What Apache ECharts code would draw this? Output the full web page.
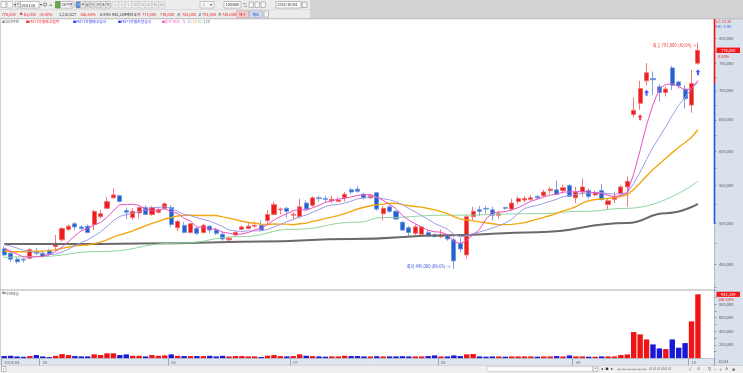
<!DOCTYPE html>
<html><head><meta charset="utf-8">
<script src="https://cdn.jsdelivr.net/npm/echarts@6.0.0/dist/echarts.min.js"></script>
<style>html,body{margin:0;padding:0;background:#fff;overflow:hidden}#main{width:743px;height:373px}</style>
</head><body><div id="main"></div>
<script>
// ---------------- DATA ----------------
const dates = ['2024/04/23','2024/04/24','2024/04/25','2024/04/26','2024/04/29','2024/04/30',
'2024/05/02','2024/05/03','2024/05/07','2024/05/08','2024/05/09','2024/05/10','2024/05/13','2024/05/14','2024/05/16','2024/05/17','2024/05/20','2024/05/21','2024/05/22','2024/05/23','2024/05/24','2024/05/27','2024/05/28','2024/05/29','2024/05/30','2024/05/31',
'2024/06/03','2024/06/04','2024/06/05','2024/06/07','2024/06/10','2024/06/11','2024/06/12','2024/06/13','2024/06/14','2024/06/17','2024/06/18','2024/06/19','2024/06/20','2024/06/21','2024/06/24','2024/06/25','2024/06/26','2024/06/27','2024/06/28',
'2024/07/01','2024/07/02','2024/07/03','2024/07/04','2024/07/05','2024/07/08','2024/07/09','2024/07/10','2024/07/11','2024/07/12','2024/07/15','2024/07/16','2024/07/17','2024/07/18','2024/07/19','2024/07/22','2024/07/23','2024/07/24','2024/07/25','2024/07/26','2024/07/29','2024/07/30','2024/07/31',
'2024/08/01','2024/08/02','2024/08/05','2024/08/06','2024/08/07','2024/08/08','2024/08/09','2024/08/12','2024/08/13','2024/08/14','2024/08/16','2024/08/19','2024/08/20','2024/08/21','2024/08/22','2024/08/23','2024/08/26','2024/08/27','2024/08/28','2024/08/29','2024/08/30',
'2024/09/02','2024/09/03','2024/09/04','2024/09/05','2024/09/06','2024/09/09','2024/09/10','2024/09/11','2024/09/12','2024/09/13','2024/09/19','2024/09/20','2024/09/23','2024/09/24','2024/09/25','2024/09/26','2024/09/27','2024/09/30',
'2024/10/02','2024/10/04'];

const openP = [468000,463000,456000,456000,457000,465000,
463000,466000,471000,479000,492000,499000,495000,496000,498000,508000,519000,533000,536000,516000,507000,513000,520000,511000,514000,519000,
520000,494000,497000,488000,493000,488000,496000,491000,486000,479000,485000,492000,493000,496000,497000,503000,511000,517000,519000,
510000,508000,526000,523000,533000,532000,529000,528000,533000,544000,545000,538000,533000,540000,512000,521000,515000,501000,494000,487000,486000,488000,485000,
483000,484000,479000,475000,461000,508000,517000,519000,517000,510000,520000,518000,528000,530000,531000,535000,536000,543000,544000,543000,550000,
533000,541000,543000,537000,543000,524000,531000,539000,548000,659000,678000,718000,722000,707000,697000,742000,716000,703000,
675000,751000];

const highP = [471000,465000,458000,457000,469000,469000,
466000,468000,485000,495000,498000,501000,497000,498000,517000,517000,534000,546000,537000,520000,519000,521000,523000,522000,520000,527000,
523000,504000,501000,500000,495000,499000,497000,494000,489000,483000,490000,497000,500000,502000,503000,517000,528000,520000,521000,
514000,532000,530000,535000,536000,536000,536000,534000,541000,547000,549000,540000,537000,541000,522000,523000,517000,502000,496000,498000,496000,491000,487000,
492000,486000,482000,481000,511000,521000,522000,522000,521000,516000,521000,532000,535000,536000,537000,537000,544000,548000,557000,551000,552000,
548000,560000,546000,543000,552000,532000,541000,551000,563000,688000,718000,751000,735000,712000,707000,746000,718000,710000,
738000,791000];

const lowP = [459000,453000,451000,452000,456000,461000,
458000,460000,466000,477000,490000,491000,491000,487000,491000,506000,518000,532000,527000,505000,504000,506000,510000,509000,512000,517000,
495000,490000,487000,487000,485000,487000,487000,485000,478000,477000,483000,491000,492000,494000,490000,499000,510000,511000,507000,
505000,506000,516000,521000,528000,527000,526000,527000,528000,538000,540000,531000,532000,516000,503000,513000,504000,490000,483000,485000,484000,483000,482000,
481000,478000,445000,464000,457000,503000,509000,512000,503000,506000,517000,516000,525000,527000,529000,531000,534000,539000,537000,539000,534000,
526000,535000,532000,535000,529000,517000,526000,535000,521000,654000,667000,710000,693000,681000,690000,701000,704000,669000,
662000,748000];

const closeP = [461000,456000,453000,455000,467000,463000,
459000,462000,474000,493000,496000,495000,493000,488000,515000,512000,528000,537000,528000,514000,515000,520000,511000,520000,517000,525000,
498000,502000,488000,499000,487000,497000,491000,487000,480000,481000,488000,495000,496000,497000,491000,511000,524000,518000,515000,
511000,521000,518000,533000,532000,531000,531000,530000,538000,541000,542000,533000,536000,518000,519000,515000,505000,491000,488000,495000,495000,484000,483000,
485000,480000,454000,468000,508000,515000,515000,518000,510000,512000,519000,526000,532000,532000,533000,533000,541000,545000,538000,547000,535000,
541000,548000,535000,540000,531000,529000,535000,548000,556000,666000,704000,733000,720000,697000,703000,710000,709000,686000,
713000,776000];

// trading value (백만원)
const tradeValue = [34000,38000,29000,24000,34000,49000,
29000,19000,38000,63000,49000,34000,29000,29000,59000,49000,74000,74000,49000,59000,38000,38000,29000,49000,38000,44000,
59000,38000,34000,34000,34000,34000,38000,29000,38000,29000,34000,34000,29000,29000,20000,39000,49000,34000,29000,
34000,59000,39000,34000,29000,25000,29000,29000,39000,34000,34000,29000,29000,32000,29000,29000,29000,32000,29000,29000,29000,34000,44000,
29000,29000,44000,34000,59000,64000,29000,25000,29000,29000,25000,29000,29000,29000,29000,25000,29000,29000,34000,29000,44000,
29000,29000,25000,25000,29000,29000,29000,49000,59000,387000,353000,279000,206000,147000,137000,279000,157000,225000,
544000,942359];

// closes before the visible window (estimated, only used to warm up the short moving averages)
const priorCloses = [462000,458000,455000,457000,460000,456000,452000,455000,458000,462000,470000,478000,482000,480000,476000,473000,470000,472000,468000];

// long moving averages at sample days [dayIndex, value]
const ma60Points = [[0,458000],[5,459000],[15,465000],[27,475000],[37,483000],[45,492000],[55,501000],[59,507000],[69,510000],[83,512000],[90,515000],[97,519000],[108,556000]];
const ma120Points = [[0,474000],[15,474000],[27,475000],[40,477000],[54,480000],[69,484500],[83,488500],[97,500000],[103,512500],[108,525000]];

// event markers
const eventWarnLinked = ['2024/09/19'];   // #단기과열예고접목
const eventWarnNotice = ['2024/09/20'];   // #단기과열예고공시
const eventDesignated = ['2024/10/04'];   // #단기과열지정공시

// axis ticks
const priceTicks = [450000,500000,550000,600000,650000,700000,750000,800000];
const priceMinorTicks = [425000,450000,475000,500000,525000,550000,575000,600000,625000,650000,675000,700000,725000,750000,775000,800000,825000];
const volumeTicks = [200000,400000,600000,800000];
const volumeMinorTicks = [100000,200000,300000,400000,500000,600000,700000,800000,900000,1000000];

// ---------------- STYLE ----------------
const FF = '"Noto Sans CJK KR","Noto Sans",sans-serif';
const RED = '#ee1c1c', BLUE = '#1f62d0', VRED = '#f01414', VBLUE = '#1818d6';
const C5 = '#ec4fc4', C10 = '#9c9ce8', C20 = '#f2a712', C60 = '#8fd49c', C120 = '#6a6a6a';
const fmt = v => Math.round(v).toLocaleString('en-US');

const N = dates.length;
const xData = dates.concat(['', '']);
const allCloses = priorCloses.concat(closeP);
function movingAvg(n) {
  return closeP.map((_, i) => {
    const k = i + priorCloses.length; let s = 0;
    for (let j = k - n + 1; j <= k; j++) s += allCloses[j];
    return Math.round(s / n);
  });
}
const monthStart = dates.map((d, i) => i === 0 || d.slice(5, 7) !== dates[i - 1].slice(5, 7));
const isMonthIdx = idx => idx < N && monthStart[idx];

let hiIdx = 0, loIdx = 0;
highP.forEach((v, i) => { if (v > highP[hiIdx]) hiIdx = i; });
lowP.forEach((v, i) => { if (v < lowP[loIdx]) loIdx = i; });
const last = N - 1;
const prevClose = closeP[last - 1];

const arrowPath = 'path://M5,0 L10,5 L7,5 L7,10 L3,10 L3,5 L0,5 Z';
function eventSeries(name, list, color) {
  return {
    name, type: 'scatter', xAxisIndex: 0, yAxisIndex: 0, z: 6,
    symbol: arrowPath, symbolSize: [5, 6], symbolOffset: [0, 7.5],
    itemStyle: { color },
    data: list.map(d => [d, lowP[dates.indexOf(d)]])
  };
}

const chart = echarts.init(document.getElementById('main'), null, { renderer: 'canvas' });
const option = {
  animation: false,
  backgroundColor: '#ffffff',
  grid: [
    { left: 1, right: 29, top: 19, height: 271 },
    { left: 1, right: 29, top: 290, height: 68.4 }
  ],
  xAxis: [
    { type: 'category', gridIndex: 0, data: xData, boundaryGap: true,
      axisLine: { show: false }, axisTick: { show: false }, axisLabel: { show: false }, splitLine: { show: false } },
    { type: 'category', gridIndex: 1, data: xData, boundaryGap: true, z: 5,
      axisLine: { show: true, lineStyle: { color: '#aeb9c6', width: 0.8 } },
      axisTick: { show: true, interval: isMonthIdx, alignWithLabel: false, length: 7, lineStyle: { color: '#8c98a6', width: 0.8 } },
      axisLabel: { show: true, interval: isMonthIdx, fontSize: 4.1, color: '#6a6a6a', align: 'left', margin: 1.8, fontFamily: FF,
        formatter: (v, i) => i === 0 ? v.slice(0, 7) : v.slice(5, 7) },
      splitLine: { show: false } }
  ],
  yAxis: [
    { type: 'log', logBase: 10, gridIndex: 0, position: 'right', min: 421600, max: 840300, z: 5,
      axisLine: { show: false }, splitLine: { show: false },
      axisTick: { show: true, customValues: priceMinorTicks, length: 2.5, lineStyle: { color: '#8090a0', width: 0.8 } },
      axisLabel: { show: true, customValues: priceTicks, formatter: v => fmt(v), fontSize: 4.0, color: '#505a64', margin: 5, fontFamily: FF } },
    { type: 'value', gridIndex: 1, position: 'right', min: 0, max: 1006000, z: 5,
      axisLine: { show: false }, splitLine: { show: false },
      axisTick: { show: true, customValues: volumeMinorTicks, length: 2.5, lineStyle: { color: '#8090a0', width: 0.8 } },
      axisLabel: { show: true, customValues: volumeTicks, formatter: v => fmt(v), fontSize: 4.0, color: '#505a64', margin: 5, fontFamily: FF } }
  ],
  series: [
    { name: '고려아연', type: 'candlestick', xAxisIndex: 0, yAxisIndex: 0, z: 3, barWidth: 4.6,
      data: dates.map((d, i) => [openP[i], closeP[i], lowP[i], highP[i]]),
      itemStyle: { color: RED, color0: BLUE, borderColor: '#f26a6a', borderColor0: '#6e96de', borderWidth: 0.9 },
      markPoint: {
        symbol: 'circle', symbolSize: 1, silent: true, itemStyle: { color: 'rgba(0,0,0,0)' },
        label: { show: true, position: 'left', fontSize: 4.2, fontFamily: FF },
        data: [
          { name: '최고', coord: [dates[hiIdx], highP[hiIdx]],
            label: { formatter: '최고 ' + fmt(highP[hiIdx]) + ' (' + dates[hiIdx].slice(5) + ') →', color: '#f03535', offset: [0, 3], distance: 1 } },
          { name: '최저', coord: [dates[loIdx], lowP[loIdx]],
            label: { formatter: '최저 ' + fmt(lowP[loIdx]) + ' (' + dates[loIdx].slice(5) + ') →', color: '#3550e0', offset: [0, -2], distance: 3 } }
        ]
      } },
    { name: 'MA120', type: 'line', xAxisIndex: 0, yAxisIndex: 0, z: 4, data: ma120Points, smooth: true, smoothMonotone: 'x', showSymbol: false, symbol: 'none', lineStyle: { color: C120, width: 2 } },
    { name: 'MA60', type: 'line', xAxisIndex: 0, yAxisIndex: 0, z: 4, data: ma60Points, smooth: true, smoothMonotone: 'x', showSymbol: false, symbol: 'none', lineStyle: { color: C60, width: 1 } },
    { name: 'MA20', type: 'line', xAxisIndex: 0, yAxisIndex: 0, z: 4, data: movingAvg(20), showSymbol: false, symbol: 'none', lineStyle: { color: C20, width: 1.4 } },
    { name: 'MA10', type: 'line', xAxisIndex: 0, yAxisIndex: 0, z: 4, data: movingAvg(10), showSymbol: false, symbol: 'none', lineStyle: { color: C10, width: 1 } },
    { name: 'MA5', type: 'line', xAxisIndex: 0, yAxisIndex: 0, z: 4, data: movingAvg(5), showSymbol: false, symbol: 'none', lineStyle: { color: C5, width: 1 } },
    eventSeries('#단기과열예고접목', eventWarnLinked, '#ee1111'),
    eventSeries('#단기과열예고공시', eventWarnNotice, '#1133ee'),
    eventSeries('#단기과열지정공시', eventDesignated, '#1133ee'),
    { name: '거래대금', type: 'bar', xAxisIndex: 1, yAxisIndex: 1, barWidth: 5.4, z: 3,
      data: tradeValue.map((v, i) => ({ value: v, itemStyle: { color: closeP[i] >= openP[i] ? VRED : VBLUE } })) }
  ]
};
chart.setOption(option);

// ---------------- FRAME / TOOLBAR ----------------
const G = [];
function R(x, y, w, h, fill, stroke, z) { G.push({ type: 'rect', silent: true, z: z || 1, shape: { x, y, width: w, height: h }, style: { fill: fill || null, stroke: stroke || null, lineWidth: 0.6 } }); }
function L(x1, y1, x2, y2, stroke, w, z) { G.push({ type: 'line', silent: true, z: z || 2, shape: { x1, y1, x2, y2 }, style: { stroke, lineWidth: w || 1 } }); }
function T(x, y, text, color, size, align, z) { G.push({ type: 'text', silent: true, z: z || 8, x, y, style: { text, fill: color, font: (size || 4.0) + 'px ' + FF, textAlign: align || 'left', textVerticalAlign: 'middle' } }); }

// toolbar background
R(0, 0, 743, 18.6, '#d2d2d2');
R(0, 0, 310, 18.6, '#ececec');
L(0, 9.6, 310, 9.6, '#cfcfcf', 0.6);
L(0, 18.8, 743, 18.8, '#a9a9a9', 0.8);
// row 1 controls
R(1, 1.5, 5, 6, '#fafafa', '#999');
R(7, 1.5, 5.5, 6.5, '#fafafa', '#aaa'); T(13.5, 5, '▾', '#444', 3.5);
R(15.5, 1.5, 4.5, 6.5, '#fafafa', '#aaa'); T(16.2, 5, '전', '#444', 3.2);
R(20.5, 1.5, 18.5, 6.5, '#ffffff', '#999'); T(21.6, 5, '010130', '#222', 4.0);
T(39.5, 5, '▾', '#444', 3.5);
G.push({ type: 'circle', silent: true, z: 8, shape: { cx: 45, cy: 4.5, r: 1.6 }, style: { fill: null, stroke: '#444', lineWidth: 0.6 } });
T(48.5, 5, '◂▸', '#666', 3.4);
R(55.5, 1.5, 4.5, 6.5, '#6aa84f', '#4b7d35');
R(60.5, 1.5, 12.5, 6.5, '#ffffff', '#999'); T(61, 5, '고려아연', '#222', 3.1);
R(73.5, 2.5, 1.8, 4, '#d0d0d0');
const periods = ['일', '주', '월', '년', '분', '초', '틱'];
const periodX = [76, 80.6, 85.2, 90.4, 96.3, 101.2, 105.8];
periods.forEach((p, k) => { R(periodX[k], 1.5, 4.4, 6.5, k === 0 ? '#3d7bd9' : '#f6f6f6', '#aaa'); T(periodX[k] + 2.2, 5, p, k === 0 ? '#fff' : '#333', 3.4, 'center'); });
const mins = ['1', '3', '5', '10', '15', '30', '45', '60'];
mins.forEach((m, k) => { R(112 + k * 6.7, 1.5, 6.2, 6.5, '#f0f0f0', '#c4c4c4'); T(115.1 + k * 6.7, 5, m, '#9a9a9a', 3.4, 'center'); });
R(200, 1.5, 14, 6.5, '#f6f6f6', '#aaa'); T(203, 5, '3', '#888', 3.4); T(210, 5, '▾', '#444', 3.5);
R(224, 1.5, 17, 6.5, '#ffffff', '#999'); T(232.5, 5, '100/600', '#222', 3.6, 'center');
T(243, 5, '⇆', '#555', 4); R(249, 2, 4.5, 5.5, '#f6f6f6', '#999'); R(255, 2, 4.5, 5.5, '#f6f6f6', '#999'); R(261, 2, 4.5, 5.5, '#f6f6f6', '#999');
R(276, 1.5, 25, 6.5, '#ffffff', '#999'); T(277.3, 5, '2024/10/04', '#222', 3.8);
R(302, 2, 5, 5.5, '#f6f6f6', '#888');
// row 2 quote line
const chg = closeP[last] - prevClose;
const y2 = 14.2;
const QF = 3.9;
T(1.7, y2, fmt(closeP[last]), '#e8201e', QF);
T(19.5, y2, '▲', '#e8201e', 3.4);
T(24, y2, fmt(chg), '#e8201e', QF);
T(39, y2, '+' + (chg / prevClose * 100).toFixed(2) + '%', '#e8201e', QF);
T(59, y2, '1,230,827', '#333', QF);
T(80, y2, '156.44%', '#e8201e', QF);
T(100, y2, '5.94%', '#333', QF);
T(112, y2, fmt(tradeValue[last]) + '백만', '#333', QF);
T(133.5, y2, '호가', '#333', 3.7);
T(142, y2, '777,000', '#e8201e', QF);
T(160, y2, fmt(closeP[last]), '#e8201e', QF);
T(177, y2, '시', '#333', 3.7);
T(182, y2, fmt(openP[last]), '#e8201e', QF);
T(198, y2, '고', '#333', 3.7);
T(202, y2, fmt(highP[last]), '#e8201e', QF);
T(218, y2, '저', '#333', 3.7);
T(222, y2, fmt(lowP[last]), '#e8201e', QF);
R(236.5, 10.8, 12, 6.8, '#f6d0cc', '#c99'); T(242.5, y2, '매수', '#c41818', 3.7, 'center');
R(249.5, 10.8, 13, 6.8, '#cfdcf6', '#99a8c8'); T(256, y2, '매도', '#1840a8', 3.7, 'center');
R(264, 11, 4.5, 6.2, '#f6f6f6', '#999');
// legend row
const ly = 22;
const LF = 3.9;
T(2, ly, '■', '#8a8a8a', 3); T(4.6, ly, '고려아연', '#555', LF);
T(26, ly, '■', '#ee2222', 3); T(28.6, ly, '#단기과열예고접목', '#ee2222', LF);
T(73, ly, '■', '#2233ee', 3); T(75.6, ly, '#단기과열예고공시', '#2233ee', LF);
T(118, ly, '■', '#2233ee', 3); T(120.6, ly, '#단기과열지정공시', '#2233ee', LF);
T(162, ly, '■', C5, 3); T(164.6, ly, '종가 단순', C5, LF);
T(183, ly, '5', C5, LF); T(187, ly, '10', C10, LF); T(192.5, ly, '20', C20, LF); T(198, ly, '60', C60, LF); T(203.5, ly, '120', C120, LF);
// panels
L(0.5, 19, 0.5, 358, '#c4c4c4', 0.8);
L(0, 290, 714, 290, '#c8c8c8', 1.4);
T(2, 293.3, '■', '#8a8a8a', 3); T(4.6, 293.3, '거래대금', '#555', LF);
R(0, 358.4, 714, 7, '#dde5ee');
R(714, 19, 29, 347, '#d9e2ec');
L(714.5, 19, 714.5, 366, '#a9b4c0', 0.8);
T(718, 361.8, dates[last].slice(5), '#666', 4.0);
// bottom strip
R(0, 365.4, 743, 7.6, '#efefef');
L(0, 365.4, 743, 365.4, '#c2c2c2', 0.6);
R(1.5, 366.6, 4.5, 5, '#fafafa', '#999'); T(3.7, 369.1, 'ı', '#333', 3.5, 'center');
R(487, 366.7, 106, 4.6, '#ffffff', '#bcbcbc');
R(593, 366.7, 5, 4.6, '#f6f6f6', '#999'); T(595.5, 369, '▪', '#444', 3.2, 'center');
T(602, 369, '◂', '#333', 3.6, 'center'); T(607, 369, '■', '#333', 3, 'center'); T(612, 369, '▸', '#333', 3.6, 'center');
L(617, 369.4, 647, 369.4, '#888', 0.6);
[619, 624, 629, 634, 639, 644].forEach(x => L(x, 368.2, x, 370.6, '#888', 0.5));
T(649, 369, '⊡ ⊡ ⊡ ⊡ ⊡ ⊡', '#666', 3.8);
T(689, 369, '⤢', '#555', 3.8);
T(697, 369, '⊡', '#666', 3.8);
T(708, 369, 'Q', '#333', 3.8); T(714, 369, '−', '#333', 4); T(719.5, 369, '+', '#333', 4); T(725.5, 369, 'A', '#333', 3.8); T(731.5, 369, '⊞', '#333', 4);

// right axis: limit range bar, LC/HC, current value boxes (positions from the library's own scales)
const yTop = chart.convertToPixel({ yAxisIndex: 0 }, 840300);
const yPrev = chart.convertToPixel({ yAxisIndex: 0 }, prevClose);
const yLowLim = chart.convertToPixel({ yAxisIndex: 0 }, prevClose * 0.7);
L(714.5, yTop, 714.5, yPrev, '#ee1111', 1.6, 9);
L(714.5, yPrev, 714.5, yLowLim, '#1f55e0', 1.6, 9);
T(716, 21.5, 'LC:' + ((closeP[last] / lowP[loIdx] - 1) * 100).toFixed(2), '#e83030', 3.9);
T(716, 26.3, 'HC:' + ((closeP[last] / highP[hiIdx] - 1) * 100).toFixed(2), '#3060e0', 3.9);
const yCur = chart.convertToPixel({ yAxisIndex: 0 }, closeP[last]);
R(716.5, yCur - 2.7, 23.5, 5.4, '#f01818', null, 9);
T(728.2, yCur, fmt(closeP[last]), '#ffffff', 4.0, 'center', 10);
T(718, yCur + 5.8, (chg / prevClose * 100).toFixed(2) + '%', '#e82020', 3.9, 'left', 10);
const yVol = chart.convertToPixel({ yAxisIndex: 1 }, tradeValue[last]);
R(716.5, yVol - 2.6, 23.5, 5.2, '#f01818', null, 9);
T(728.2, yVol, fmt(tradeValue[last]), '#ffffff', 4.0, 'center', 10);
T(718, yVol + 5.4, '156.44%', '#e82020', 3.9, 'left', 10);

chart.setOption({ graphic: { elements: G } });
</script>
</body></html>
